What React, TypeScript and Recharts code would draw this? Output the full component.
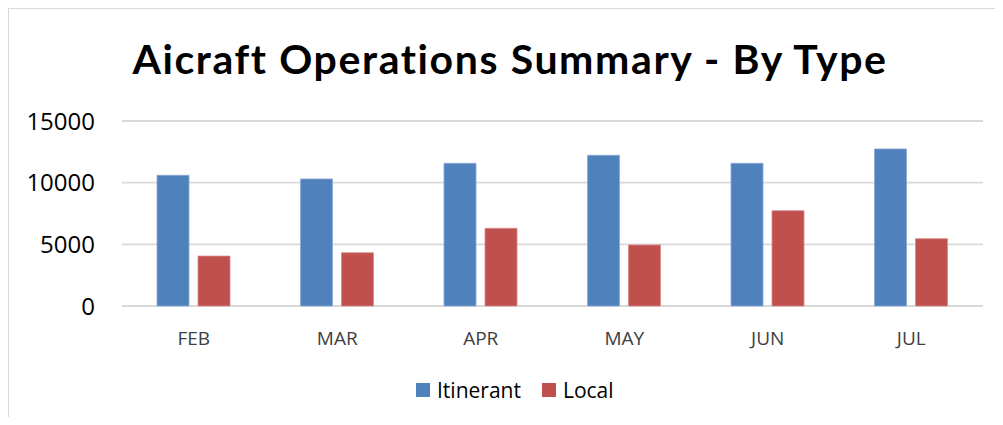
import React from "react";
import { BarChart, Bar, XAxis, YAxis, CartesianGrid } from "recharts";

const MONTHS = ["FEB", "MAR", "APR", "MAY", "JUN", "JUL"];
const ITINERANT = [10600, 10300, 11570, 12220, 11570, 12730];
const LOCAL = [4050, 4320, 6300, 4950, 7730, 5460];
const Y_TICKS = [0, 5000, 10000, 15000];

const BLUE = "#4f81bd";
const RED = "#c0504d";
const GRID = "#d9d9d9";

const data = MONTHS.map((m, i) => ({ month: m, itinerant: ITINERANT[i], local: LOCAL[i] }));

const LegendItem = ({ color, label }: { color: string; label: string }) => (
  <div style={{ display: "flex", alignItems: "center", gap: 7 }}>
    <span style={{ width: 14, height: 14, background: color, display: "inline-block" }} />
    <span>{label}</span>
  </div>
);

export default function App() {
  return (
    <div style={{ position: "relative", width: 1003, height: 425, margin: -8, overflow: "hidden" }}>
      <div
        style={{
          position: "absolute",
          left: 7,
          top: 7,
          width: 1020,
          height: 440,
          border: `2px solid ${GRID}`,
          boxSizing: "border-box",
        }}
      />
      <div
        style={{
          position: "absolute",
          left: 10,
          width: 1000,
          top: 35,
          textAlign: "center",
          fontFamily: "Lato, sans-serif",
          fontWeight: 700,
          fontSize: 41,
          letterSpacing: 1.6,
          lineHeight: "48px",
          color: "#000",
        }}
      >
        Aicraft Operations Summary - By Type
      </div>
      <div style={{ position: "absolute", left: 0, top: 0 }}>
        <BarChart
          width={1003}
          height={425}
          data={data}
          margin={{ top: 121, right: 20, left: 22, bottom: 89 }}
          barSize={32}
          barGap={9}
        >
          <CartesianGrid horizontal vertical={false} stroke={GRID} strokeWidth={1.8} />
          <XAxis
            dataKey="month"
            height={30}
            axisLine={false}
            tickLine={false}
            tickSize={0}
            tickMargin={26}
            tick={{ fill: "#404040", fontSize: 19, fontFamily: "'Open Sans', sans-serif" }}
          />
          <YAxis
            width={100}
            domain={[0, 15000]}
            ticks={Y_TICKS}
            axisLine={false}
            tickLine={false}
            tickSize={0}
            tickMargin={27}
            tick={{ fill: "#000", fontSize: 24, fontFamily: "'Open Sans', sans-serif" }}
          />
          <Bar dataKey="itinerant" name="Itinerant" fill={BLUE} stroke="#8aaad6" strokeWidth={0.8} isAnimationActive={false} />
          <Bar dataKey="local" name="Local" fill={RED} stroke="#d98a88" strokeWidth={0.8} isAnimationActive={false} />
        </BarChart>
      </div>
      <div
        style={{
          position: "absolute",
          left: 416,
          top: 376,
          display: "flex",
          gap: 21,
          fontFamily: "'Open Sans', sans-serif",
          fontSize: 21,
          lineHeight: "28px",
          color: "#000",
        }}
      >
        <LegendItem color={BLUE} label="Itinerant" />
        <LegendItem color={RED} label="Local" />
      </div>
    </div>
  );
}
